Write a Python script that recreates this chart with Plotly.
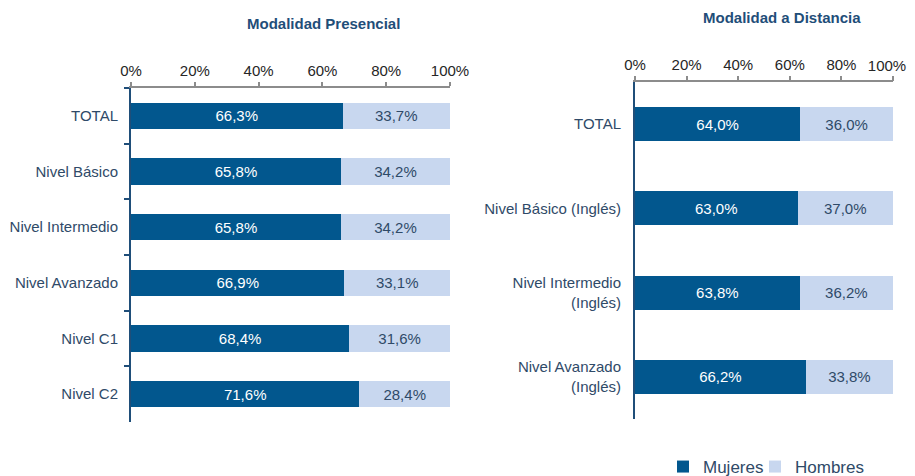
import plotly.graph_objects as go

# ---- data ----
cats_pres = ["TOTAL", "Nivel Básico", "Nivel Intermedio", "Nivel Avanzado", "Nivel C1", "Nivel C2"]
mujeres_pres = [66.3, 65.8, 65.8, 66.9, 68.4, 71.6]
hombres_pres = [33.7, 34.2, 34.2, 33.1, 31.6, 28.4]

cats_dist = ["TOTAL", "Nivel Básico (Inglés)", "Nivel Intermedio<br>(Inglés)", "Nivel Avanzado<br>(Inglés)"]
mujeres_dist = [64.0, 63.0, 63.8, 66.2]
hombres_dist = [36.0, 37.0, 36.2, 33.8]

x_ticks = [0, 20, 40, 60, 80, 100]
x_ticklabels = ["0%", "20%", "40%", "60%", "80%", "100%"]

title_pres = "Modalidad Presencial"
title_dist = "Modalidad a Distancia"

# ---- styles ----
DARK = "#02578E"
LIGHT = "#C8D7EF"
NAVY = "#1F4E79"
LABEL = "#2F4A68"
FONT = "Liberation Sans, Arial, sans-serif"
W, H = 915, 476
OFF = 8  # page body margin
FS = 15


def px(x):
    return (x - OFF) / W


def py(y):
    return 1 - (y - OFF) / H


def fmt(v):
    return f"{v:.1f}".replace(".", ",") + "%"


fig = go.Figure()

fig.add_trace(go.Bar(y=cats_pres, x=mujeres_pres, orientation="h", name="Mujeres",
                     marker=dict(color=DARK, line=dict(width=0)), width=0.47,
                     text=[fmt(v) for v in mujeres_pres], textposition="inside",
                     insidetextanchor="middle", textfont=dict(color="white", size=FS, family=FONT),
                     xaxis="x", yaxis="y", legend="legend", showlegend=True, hoverinfo="skip"))
fig.add_trace(go.Bar(y=cats_pres, x=hombres_pres, orientation="h", name="Hombres",
                     marker=dict(color=LIGHT, line=dict(width=0)), width=0.47,
                     text=[fmt(v) for v in hombres_pres], textposition="inside",
                     insidetextanchor="middle", textfont=dict(color=LABEL, size=FS, family=FONT),
                     xaxis="x", yaxis="y", legend="legend2", showlegend=True, hoverinfo="skip"))
fig.add_trace(go.Bar(y=cats_dist, x=mujeres_dist, orientation="h", name="Mujeres",
                     marker=dict(color=DARK, line=dict(width=0)), width=0.405,
                     text=[fmt(v) for v in mujeres_dist], textposition="inside",
                     insidetextanchor="middle", textfont=dict(color="white", size=FS, family=FONT),
                     xaxis="x2", yaxis="y2", showlegend=False, hoverinfo="skip"))
fig.add_trace(go.Bar(y=cats_dist, x=hombres_dist, orientation="h", name="Hombres",
                     marker=dict(color=LIGHT, line=dict(width=0)), width=0.405,
                     text=[fmt(v) for v in hombres_dist], textposition="inside",
                     insidetextanchor="middle", textfont=dict(color=LABEL, size=FS, family=FONT),
                     xaxis="x2", yaxis="y2", showlegend=False, hoverinfo="skip"))
# invisible helper so the overlaying axis carrying the "100%" label is drawn
fig.add_trace(go.Scatter(x=x_ticks[-1:], y=cats_dist[:1], mode="markers",
                         marker=dict(opacity=0, size=1), xaxis="x3", yaxis="y2",
                         showlegend=False, hoverinfo="skip"))

xcommon = dict(range=[0, 100], side="top",
               showgrid=False, zeroline=False, showline=True, linecolor="#8C8C8C", linewidth=1.5,
               ticks="outside", ticklen=4, tickcolor="#8C8C8C", tickwidth=1.5, automargin=False,
               tickfont=dict(size=FS, color="#262626", family=FONT), fixedrange=True)

legcommon = dict(orientation="h", xanchor="left", y=py(467), yanchor="middle",
                 font=dict(size=17, color=LABEL, family=FONT), itemwidth=30,
                 bgcolor="rgba(0,0,0,0)")

right_labels = x_ticklabels[:-1] + [""]

fig.update_layout(
    width=W, height=H,
    margin=dict(l=0, r=0, t=0, b=0, autoexpand=False),
    paper_bgcolor="white", plot_bgcolor="white",
    barmode="stack", bargap=0.5,
    font=dict(family=FONT, color=LABEL),
    xaxis=dict(domain=[px(131), px(450)], anchor="y", tickvals=x_ticks, ticktext=x_ticklabels, **xcommon),
    yaxis=dict(domain=[py(422), py(88)], anchor="x", autorange="reversed",
               showline=True, linecolor=NAVY, linewidth=2, showgrid=False, automargin=False,
               ticks="outside", tickson="boundaries", ticklen=5, tickcolor=NAVY, tickwidth=2,
               ticklabelstandoff=8,
               tickfont=dict(size=FS, color=LABEL, family=FONT), fixedrange=True),
    xaxis2=dict(domain=[px(635), px(893)], anchor="y2", tickvals=x_ticks, ticktext=right_labels, **xcommon),
    xaxis3=dict(overlaying="x2", anchor="y2", side="top", range=[0, 100],
                tickvals=x_ticks[-1:], ticktext=x_ticklabels[-1:], ticks="outside", ticklen=4,
                tickcolor="#8C8C8C", tickwidth=1.5, showline=False,
                showgrid=False, zeroline=False, automargin=False, ticklabelshift=-6,
                tickfont=dict(size=FS, color="#262626", family=FONT), fixedrange=True),
    yaxis2=dict(domain=[py(419), py(82)], anchor="x2", autorange="reversed",
                showline=True, linecolor=NAVY, linewidth=2, showgrid=False, automargin=False,
                ticks="", ticklabelstandoff=9,
                tickfont=dict(size=FS, color=LABEL, family=FONT), fixedrange=True),
    legend=dict(x=px(663), **legcommon),
    legend2=dict(x=px(755), **legcommon),
    annotations=[
        dict(text=f"<b>{title_pres}</b>", x=px(323), y=py(23), xref="paper", yref="paper",
             showarrow=False, font=dict(size=15, color=NAVY, family=FONT), xanchor="center", yanchor="middle"),
        dict(text=f"<b>{title_dist}</b>", x=px(782), y=py(17), xref="paper", yref="paper",
             showarrow=False, font=dict(size=15, color=NAVY, family=FONT), xanchor="center", yanchor="middle"),
    ],
)

fig.write_html("out.html")
